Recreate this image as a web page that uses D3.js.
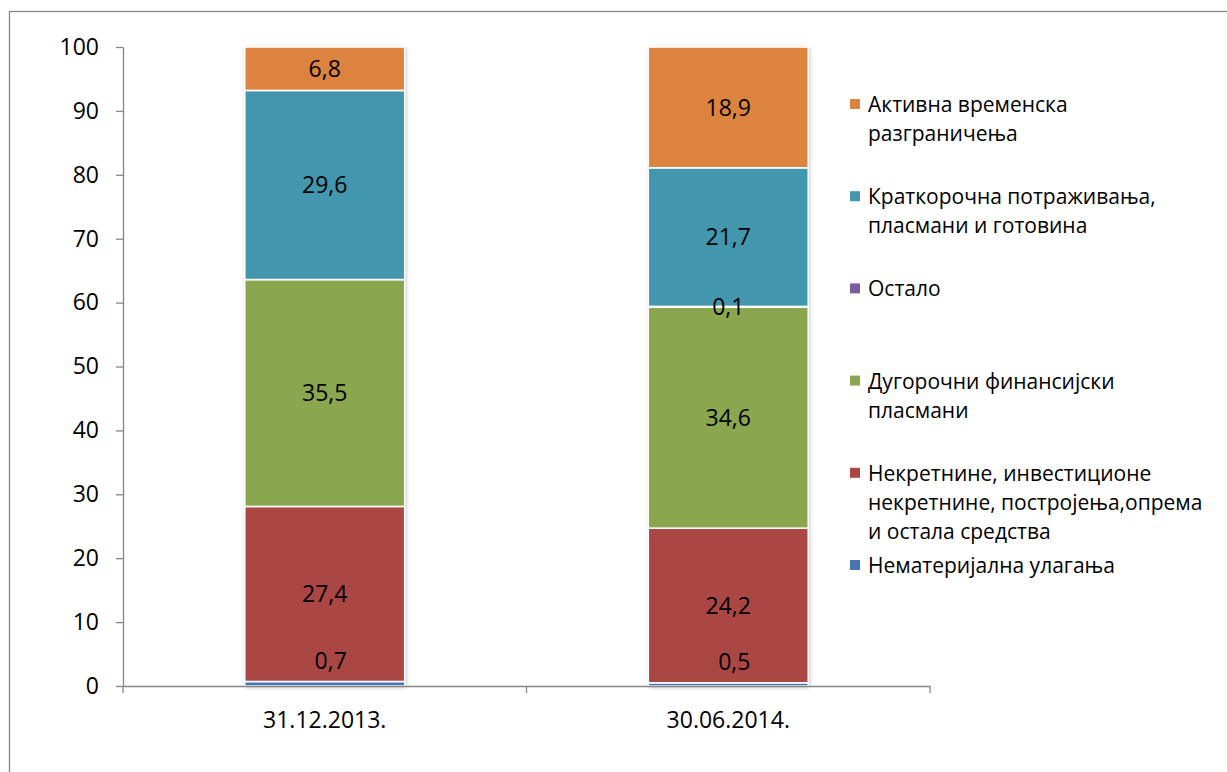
<!DOCTYPE html>
<html>
<head>
<meta charset="utf-8">
<script src="https://cdn.jsdelivr.net/npm/d3@7"></script>
<style>
  body { margin: 0; background: #fff; }
  text { font-family: "Open Sans", sans-serif; fill: #000; }
</style>
</head>
<body>
<div class="js-vis"></div>
<script>
const categories = ['31.12.2013.', '30.06.2014.']

// bottom to top
const seriesKeys = ['nemat', 'nekret', 'dugor', 'ostalo', 'kratk', 'aktiv']
const seriesNames = {
  nemat: ['Нематеријална улагања'],
  nekret: ['Некретнине, инвестиционе', 'некретнине, постројења,опрема', 'и остала средства'],
  dugor: ['Дугорочни финансијски', 'пласмани'],
  ostalo: ['Остало'],
  kratk: ['Краткорочна потраживања,', 'пласмани и готовина'],
  aktiv: ['Активна временска', 'разграничења']
}
const seriesColors = ['#4674AE', '#AA4745', '#8AA64E', '#7B5C9E', '#4297AE', '#DB833F']

const nemat = [0.7, 0.5]
const nekret = [27.4, 24.2]
const dugor = [35.5, 34.6]
const ostalo = [0, 0.1]
const kratk = [29.6, 21.7]
const aktiv = [6.8, 18.9]

const yTicks = [0, 10, 20, 30, 40, 50, 60, 70, 80, 90, 100]

const W = 1227, H = 772

const rows = categories.map((c, i) => ({
  cat: c, nemat: nemat[i], nekret: nekret[i], dugor: dugor[i],
  ostalo: ostalo[i], kratk: kratk[i], aktiv: aktiv[i]
}))

const svg = d3.select('.js-vis').append('svg')
    .attr('width', W)
    .attr('height', H)

const defs = svg.append('defs')
defs.append('filter')
    .attr('id', 'shadow')
    .attr('x', '-20%').attr('y', '-5%')
    .attr('width', '140%').attr('height', '110%')
  .append('feDropShadow')
    .attr('dx', 1).attr('dy', 1)
    .attr('stdDeviation', 2.2)
    .attr('flood-color', '#000')
    .attr('flood-opacity', 0.3)

// chart area frame
svg.append('rect')
    .attr('x', 9.5).attr('y', 11.5)
    .attr('width', W + 20).attr('height', H + 20)
    .attr('fill', 'none')
    .attr('stroke', '#868686')
    .attr('stroke-width', 1.3)

const x = d3.scaleBand()
    .domain(categories)
    .range([123, 930])
    .paddingInner(0.6035)
    .paddingOuter(0.3017)

const y = d3.scaleLinear()
    .domain([0, 100])
    .range([686, 47])

const stack = d3.stack().keys(seriesKeys)
const layers = stack(rows)
const color = d3.scaleOrdinal().domain(seriesKeys).range(seriesColors)

// bars
const bars = svg.append('g')
bars.selectAll('.bar')
    .data(categories)
  .enter().append('rect')
    .attr('class', 'bar')
    .attr('x', d => x(d))
    .attr('y', y(100))
    .attr('width', x.bandwidth())
    .attr('height', y(0) - y(100))
    .attr('fill', '#fff')
    .attr('filter', 'url(#shadow)')

const layerG = bars.selectAll('.layer')
    .data(layers)
  .enter().append('g')
    .attr('class', 'layer')
    .attr('fill', d => color(d.key))

layerG.selectAll('rect')
    .data(d => d.filter(s => s[1] - s[0] > 0))
  .enter().append('rect')
    .attr('x', d => x(d.data.cat))
    .attr('y', d => y(d[1]))
    .attr('width', x.bandwidth())
    .attr('height', d => y(d[0]) - y(d[1]))
    .attr('stroke', '#fff')
    .attr('stroke-width', 1.6)

// axes
const yax = d3.axisLeft(y)
    .tickValues(yTicks)
    .tickSizeInner(7)
    .tickSizeOuter(0)
    .tickPadding(17)

const gy = svg.append('g')
    .attr('transform', 'translate(123,0)')
    .call(yax)
gy.selectAll('text').style('font-size', '23px').style('font-family', '"Open Sans", sans-serif')

const xax = d3.axisBottom(x)
    .tickSize(0)
    .tickPadding(26)

const gx = svg.append('g')
    .attr('transform', 'translate(0,686)')
    .call(xax)
gx.selectAll('text').style('font-size', '23px').style('font-family', '"Open Sans", sans-serif')

// category boundary ticks
gx.selectAll('.bound')
    .data(d3.range(categories.length + 1))
  .enter().append('line')
    .attr('class', 'bound')
    .attr('x1', i => x.range()[0] + i * x.step())
    .attr('x2', i => x.range()[0] + i * x.step())
    .attr('y1', 0)
    .attr('y2', 7)

svg.selectAll('.domain, .tick line, .bound')
    .attr('stroke', '#868686')
    .attr('stroke-width', 1.3)

// data labels
const labels = []
layers.forEach((layer, li) => {
  layer.forEach(s => {
    const v = s[1] - s[0]
    if (v <= 0) return
    const tiny = li === 0 && v < 1
    labels.push({
      text: d3.format('.1f')(v).replace('.', ','),
      cx: x(s.data.cat) + x.bandwidth() / 2 + (tiny ? 6 : 0),
      cy: tiny ? y(s[1]) - 21 : y((s[0] + s[1]) / 2)
    })
  })
})

svg.append('g').selectAll('text')
    .data(labels)
  .enter().append('text')
    .attr('x', d => d.cx)
    .attr('y', d => d.cy)
    .attr('dy', '0.36em')
    .attr('text-anchor', 'middle')
    .style('font-size', '23px')
    .text(d => d.text)

// legend, top to bottom
const legendKeys = seriesKeys.slice().reverse()
const ly = d3.scalePoint()
    .domain(legendKeys)
    .range([112, 573])

const leg = svg.append('g').selectAll('.leg')
    .data(legendKeys)
  .enter().append('g')
    .attr('class', 'leg')
    .attr('transform', d => 'translate(850,' + ly(d) + ')')

leg.append('rect')
    .attr('x', 0)
    .attr('y', -13)
    .attr('width', 10)
    .attr('height', 10)
    .attr('fill', d => color(d))

leg.append('text')
    .attr('x', 18)
    .style('font-size', '21px')
  .selectAll('tspan')
    .data(d => seriesNames[d])
  .enter().append('tspan')
    .attr('x', 18)
    .attr('y', (d, i) => i * 29)
    .text(String)
</script>
</body>
</html>
